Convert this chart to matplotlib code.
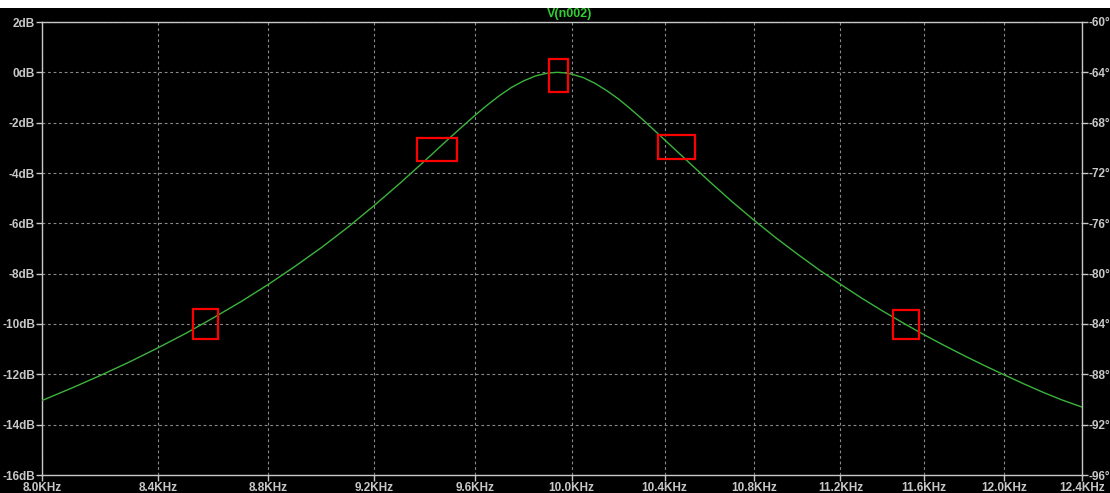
import matplotlib
matplotlib.use('Agg')
import matplotlib.pyplot as plt
from matplotlib.patches import Rectangle

# V(n002) magnitude, frequency in KHz, gain in dB
freq_khz = [8.0, 8.1, 8.2, 8.3, 8.4, 8.5, 8.6, 8.7, 8.8, 8.9,
            9.0, 9.1, 9.2, 9.3, 9.4, 9.5, 9.6, 9.65, 9.7, 9.75,
            9.8, 9.85, 9.9, 9.94, 9.97, 10.0, 10.05, 10.1, 10.15, 10.2,
            10.25, 10.3, 10.4, 10.5, 10.6, 10.7, 10.8, 10.9, 11.0, 11.1,
            11.2, 11.3, 11.4, 11.5, 11.6, 11.7, 11.8, 11.9, 12.0, 12.1,
            12.2, 12.3, 12.4]
gain_db = [-13.04, -12.55, -12.04, -11.51, -10.95, -10.37, -9.75, -9.11, -8.43, -7.71,
           -6.96, -6.16, -5.31, -4.43, -3.52, -2.60, -1.72, -1.31, -0.93, -0.60,
           -0.34, -0.14, -0.03, 0.0, -0.02, -0.07, -0.21, -0.44, -0.73, -1.06,
           -1.44, -1.84, -2.68, -3.52, -4.35, -5.14, -5.88, -6.58, -7.23, -7.85,
           -8.42, -8.97, -9.48, -9.96, -10.42, -10.85, -11.26, -11.65, -12.02, -12.38,
           -12.72, -13.03, -13.30]

# axis ticks
x_ticks = [8.0, 8.4, 8.8, 9.2, 9.6, 10.0, 10.4, 10.8, 11.2, 11.6, 12.0, 12.4]
db_ticks = [2, 0, -2, -4, -6, -8, -10, -12, -14, -16]
deg_ticks = [-60, -64, -68, -72, -76, -80, -84, -88, -92, -96]

# red boxes around the peak, -3dB and -10dB points: (f_lo, f_hi, db_lo, db_hi)
boxes = [(9.906, 9.986, -0.77, 0.53),
         (9.371, 9.530, -3.52, -2.60),
         (10.371, 10.533, -3.43, -2.50),
         (8.527, 8.617, -10.60, -9.40),
         (11.453, 11.579, -10.60, -9.43)]

fg = '#c8c8c8'
grid_col = '#8a8a8a'
trace = '#3cb43c'

plt.rcParams['font.family'] = ['Liberation Sans', 'DejaVu Sans']

fig = plt.figure(figsize=(11.1, 4.93), dpi=100, facecolor='black')
fig.patches.append(Rectangle((0, 1 - 8 / 493), 1, 8 / 493, transform=fig.transFigure,
                             facecolor='white', edgecolor='none', zorder=-1))

ax = fig.add_axes([42 / 1110, 1 - 475 / 493, 1040 / 1110, 453 / 493])
ax.set_facecolor('black')
ax.set_xscale('log')
ax.plot(freq_khz, gain_db, color=trace, lw=1.0, zorder=3)

for f_lo, f_hi, d_lo, d_hi in boxes:
    ax.add_patch(Rectangle((f_lo, d_lo), f_hi - f_lo, d_hi - d_lo, fill=False,
                           edgecolor='#ff0000', lw=1.6, zorder=4))

ax.set_xlim(8.0, 12.4)
ax.set_ylim(-16, 2)
ax.set_xticks(x_ticks)
ax.set_xticklabels(['%.1fKHz' % f for f in x_ticks])
ax.minorticks_off()
ax.set_yticks(db_ticks)
ax.set_yticklabels(['%ddB' % d for d in db_ticks])

ax.grid(True, color=grid_col, ls=(0, (2.5, 2.5)), lw=0.8)
for s in ax.spines.values():
    s.set_color(fg)
    s.set_linewidth(1.0)
ax.tick_params(colors=fg, labelsize=8.5, length=4, width=1, pad=1)
for lbl in ax.get_xticklabels() + ax.get_yticklabels():
    lbl.set_fontweight('bold')

ax2 = ax.twinx()
ax2.set_ylim(-96, -60)
ax2.set_yticks(deg_ticks)
ax2.set_yticklabels(['%d°' % d for d in deg_ticks])
ax2.tick_params(colors=fg, labelsize=8.5, length=4, width=1, pad=1)
for lbl in ax2.get_yticklabels():
    lbl.set_fontweight('bold')
for s in ax2.spines.values():
    s.set_visible(False)

fig.text(570 / 1110, 1 - 14 / 493, 'V(n002)', color='#33cc33', fontsize=9,
         fontweight='bold', ha='center', va='center')

fig.savefig('out.png', dpi=100, facecolor='black')
